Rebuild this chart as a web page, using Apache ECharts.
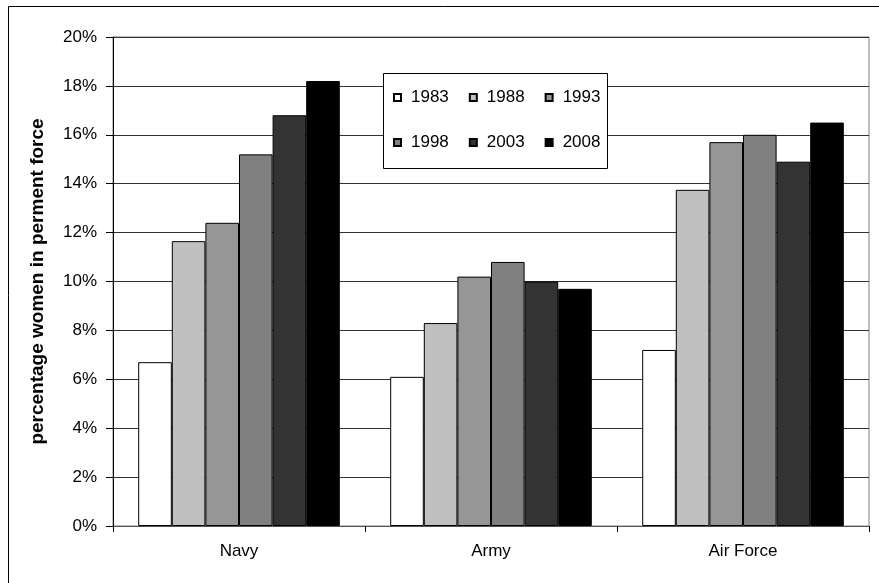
<!DOCTYPE html>
<html>
<head>
<meta charset="utf-8">
<script src="https://cdn.jsdelivr.net/npm/echarts@6/dist/echarts.min.js"></script>
<style>
html,body{margin:0;padding:0;background:#fff;}
#chart{width:879px;height:583px;}
</style>
</head>
<body>
<div id="chart"></div>
<script>
const categories = ['Navy', 'Army', 'Air Force'];
const years = ['1983', '1988', '1993', '1998', '2003', '2008'];
const v1983 = [6.7, 6.1, 7.2];
const v1988 = [11.65, 8.3, 13.75];
const v1993 = [12.4, 10.2, 15.7];
const v1998 = [15.2, 10.8, 16.0];
const v2003 = [16.8, 10.0, 14.9];
const v2008 = [18.2, 9.7, 16.5];
const yTicks = [0, 2, 4, 6, 8, 10, 12, 14, 16, 18, 20];
const yAxisTitle = 'percentage women in perment force';

const seriesValues = [v1983, v1988, v1993, v1998, v2003, v2008];
const colors = ['#ffffff', '#c0c0c0', '#969696', '#808080', '#333333', '#000000'];
const FONT = 'Liberation Sans, Arial, sans-serif';

const chart = echarts.init(document.getElementById('chart'));
const legendCommon = {
  orient: 'horizontal',
  left: 393,
  padding: 0,
  itemWidth: 7,
  itemHeight: 7,
  itemGap: 20,
  icon: 'rect',
  selectedMode: false,
  textStyle: { fontFamily: FONT, fontSize: 17, color: '#000', padding: [0, 0, 0, 5] }
};
chart.setOption({
  animation: false,
  backgroundColor: '#fff',
  graphic: [
    { type: 'rect', z: 0, silent: true, shape: { x: 8.5, y: 6.5, width: 900, height: 600 },
      style: { fill: 'none', stroke: '#000', lineWidth: 1 } },
    { type: 'rect', z: 3, silent: true, shape: { x: 383.5, y: 73.5, width: 224, height: 95 },
      style: { fill: '#fff', stroke: '#000', lineWidth: 1 } }
  ],
  legend: [
    Object.assign({}, legendCommon, { top: 89, data: years.slice(0, 3), z: 5 }),
    Object.assign({}, legendCommon, { top: 134, data: years.slice(3, 6), z: 5 })
  ],
  grid: {
    left: 113, right: 10, top: 37, bottom: 57,
    show: true, borderColor: '#808080', borderWidth: 1, backgroundColor: '#fff'
  },
  xAxis: {
    type: 'category',
    data: categories,
    axisLine: { lineStyle: { color: '#555', width: 1 } },
    axisTick: { show: true, alignWithLabel: false, length: 6, lineStyle: { color: '#000' } },
    axisLabel: { fontFamily: FONT, fontSize: 17, color: '#000', margin: 17 },
    splitLine: { show: false }
  },
  yAxis: {
    type: 'value',
    min: yTicks[0],
    max: yTicks[yTicks.length - 1],
    interval: 2,
    name: yAxisTitle,
    nameLocation: 'middle',
    nameRotate: 90,
    nameGap: 66,
    nameTextStyle: { fontFamily: FONT, fontSize: 19, fontWeight: 'bold', color: '#000' },
    axisLine: { show: true, lineStyle: { color: '#000', width: 1 } },
    axisTick: { show: true, length: 7, lineStyle: { color: '#000' } },
    axisLabel: { fontFamily: FONT, fontSize: 17, color: '#000', margin: 16, formatter: '{value}%' },
    splitLine: { show: true, lineStyle: { color: '#333', width: 1 } }
  },
  series: years.map((y, i) => ({
    name: y,
    type: 'bar',
    data: seriesValues[i],
    barGap: '0%',
    barCategoryGap: '20%',
    itemStyle: { color: colors[i], borderColor: '#000', borderWidth: 1 }
  }))
});
</script>
</body>
</html>
